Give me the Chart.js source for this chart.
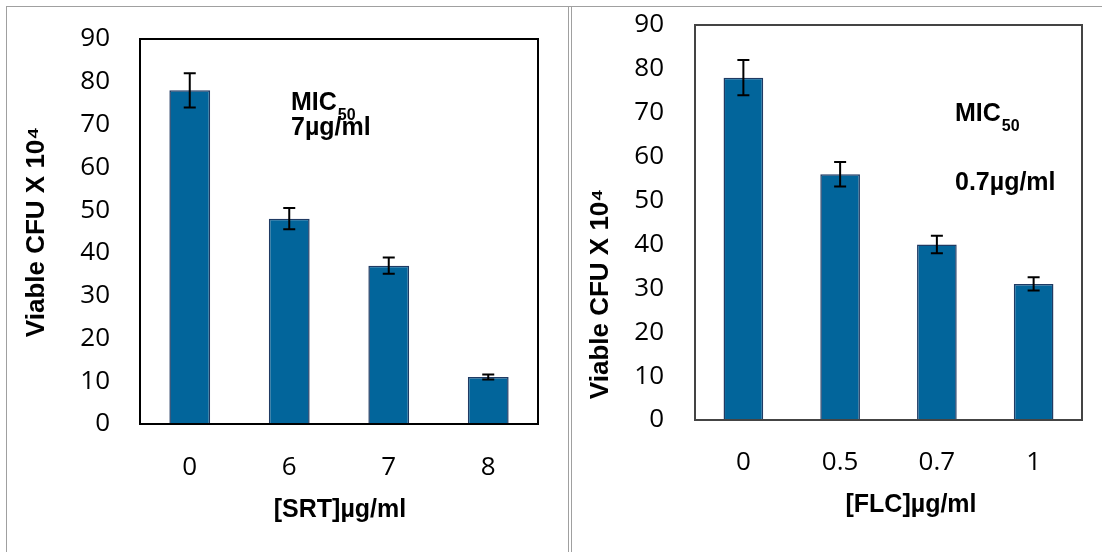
<!DOCTYPE html>
<html><head><meta charset="utf-8">
<script src="https://cdn.jsdelivr.net/npm/chart.js@4.4.0/dist/chart.umd.min.js"></script>
<style>
html,body{margin:0;padding:0;background:#fff;width:1102px;height:552px;overflow:hidden;}
#ca{position:absolute;left:0;top:0;}
#cb{position:absolute;left:572px;top:0;}
.ln{position:absolute;background:#a0a0a0;z-index:2}
</style></head><body>
<canvas id="ca" width="568" height="552"></canvas>
<canvas id="cb" width="530" height="552"></canvas>
<div class="ln" style="left:6px;top:6px;width:1096px;height:1px"></div>
<div class="ln" style="left:6px;top:6px;width:1px;height:546px"></div>
<div class="ln" style="left:568px;top:6px;width:1px;height:546px"></div>
<div class="ln" style="left:571px;top:6px;width:1px;height:546px"></div>
<script>
// ---- data ----
const srtCategories = ['0', '6', '7', '8'];
const srtValues = [78, 48, 37, 11];
const srtErrors = [4, 2.5, 1.9, 0.6];

const flcCategories = ['0', '0.5', '0.7', '1'];
const flcValues = [78, 56, 40, 31];
const flcErrors = [4, 2.8, 2, 1.5];

const yMin = 0, yMax = 90, yStep = 10;

const yTitle = 'Viable CFU X 10\u2074';
const srtXTitle = '[SRT]\u00b5g/ml';
const flcXTitle = '[FLC]\u00b5g/ml';
const srtMic = '7\u00b5g/ml';
const flcMic = '0.7\u00b5g/ml';

// ---- plugins ----
const errorPlugin = {
  id: 'errbars',
  afterDatasetsDraw(chart) {
    const ctx = chart.ctx;
    const ys = chart.scales.y;
    chart.data.datasets.forEach((ds, di) => {
      const meta = chart.getDatasetMeta(di);
      meta.data.forEach((bar, i) => {
        const v = ds.data[i], e = ds.errors[i];
        const x = bar.x;
        const yt = ys.getPixelForValue(v + e);
        const yb = ys.getPixelForValue(v - e);
        ctx.save();
        ctx.strokeStyle = '#000';
        ctx.lineWidth = 2;
        ctx.beginPath();
        ctx.moveTo(x, yt); ctx.lineTo(x, yb);
        ctx.moveTo(x - 6, yt); ctx.lineTo(x + 6, yt);
        ctx.moveTo(x - 6, yb); ctx.lineTo(x + 6, yb);
        ctx.stroke();
        ctx.restore();
      });
    });
  }
};

const framePlugin = {
  id: 'frame',
  afterDatasetsDraw(chart, args, opts) {
    const {left, top, right, bottom} = chart.chartArea;
    const ctx = chart.ctx;
    ctx.save();
    ctx.strokeStyle = opts.color || '#000';
    ctx.lineWidth = 2;
    ctx.strokeRect(left, top, right - left, bottom - top);
    ctx.restore();
  }
};

const textPlugin = {
  id: 'texts',
  afterDraw(chart, args, opts) {
    const ctx = chart.ctx;
    (opts.items || []).forEach(it => {
      ctx.save();
      ctx.fillStyle = '#000';
      ctx.font = it.font;
      ctx.textAlign = it.align || 'left';
      ctx.textBaseline = it.baseline || 'alphabetic';
      ctx.translate(it.x, it.y);
      if (it.rotate) ctx.rotate(it.rotate);
      ctx.fillText(it.text, 0, 0);
      if (it.sub) {
        const w = ctx.measureText(it.text).width;
        ctx.font = it.subFont;
        ctx.fillText(it.sub, w + 1, it.subDy);
      }
      ctx.restore();
    });
  }
};

function makeChart(id, cats, vals, errs, cfg) {
  return new Chart(document.getElementById(id), {
    type: 'bar',
    data: {
      labels: cats,
      datasets: [{
        data: vals, errors: errs,
        backgroundColor: '#02659b', borderColor: '#1f3a63', borderWidth: 1.5,
        barPercentage: 0.41, categoryPercentage: 1
      }]
    },
    options: {
      responsive: false, animation: false, events: [],
      layout: {padding: {left: 0, top: cfg.top, right: cfg.right, bottom: 0}},
      plugins: {
        legend: {display: false}, tooltip: {enabled: false},
        frame: {color: cfg.frameColor},
        texts: {items: cfg.texts}
      },
      scales: {
        x: {
          grid: {display: false, drawTicks: false}, border: {display: false},
          ticks: {font: {family: 'Open Sans', size: 26}, color: '#000', padding: cfg.xPad, maxRotation: 0},
          afterFit: s => { s.height = cfg.xH; s.paddingLeft = 0; s.paddingRight = 0; s.paddingTop = 0; s.paddingBottom = 0; }
        },
        y: {
          min: yMin, max: yMax,
          grid: {display: false, drawTicks: false}, border: {display: false},
          ticks: {stepSize: yStep, font: {family: 'Open Sans', size: 26}, color: '#000', padding: cfg.yPad},
          afterFit: s => { s.width = cfg.yW; s.paddingTop = 0; s.paddingBottom = 0; s.paddingLeft = 0; s.paddingRight = 0; }
        }
      }
    },
    plugins: [errorPlugin, framePlugin, textPlugin]
  });
}

const boldTitle = 'bold 26px "Liberation Sans", Arial, sans-serif';
const boldX = 'bold 25px "Liberation Sans", Arial, sans-serif';
const boldMic = 'bold 25px "Liberation Sans", Arial, sans-serif';
const boldSub = 'bold 16px "Liberation Sans", Arial, sans-serif';

makeChart('ca', srtCategories, srtValues, srtErrors, {
  top: 39, right: 30, xH: 128, yW: 140, yPad: 30, xPad: 28, frameColor: '#000',
  texts: [
    {text: yTitle, x: 37, y: 232, rotate: -Math.PI / 2, align: 'center', baseline: 'middle', font: boldTitle},
    {text: srtXTitle, x: 340, y: 510.5, align: 'center', baseline: 'middle', font: boldX},
    {text: 'MIC', sub: '50', x: 291, y: 110, font: boldMic, subFont: boldSub, subDy: 10},
    {text: srtMic, x: 291, y: 135, font: boldMic}
  ]
});

makeChart('cb', flcCategories, flcValues, flcErrors, {
  top: 25, right: 20, xH: 132, yW: 123, yPad: 31, xPad: 27, frameColor: '#444',
  texts: [
    {text: yTitle, x: 29, y: 294, rotate: -Math.PI / 2, align: 'center', baseline: 'middle', font: boldTitle},
    {text: flcXTitle, x: 339, y: 505, align: 'center', baseline: 'middle', font: boldX},
    {text: 'MIC', sub: '50', x: 383, y: 120.7, font: boldMic, subFont: boldSub, subDy: 10},
    {text: flcMic, x: 383, y: 190, font: boldMic}
  ]
});
</script>
</body></html>
